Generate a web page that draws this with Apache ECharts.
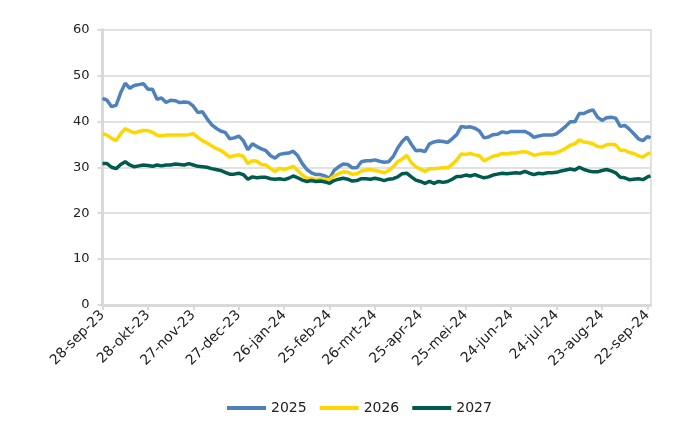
<!DOCTYPE html>
<html>
<head>
<meta charset="utf-8">
<script src="https://cdn.jsdelivr.net/npm/echarts@6/dist/echarts.min.js"></script>
<style>
html,body{margin:0;padding:0;background:#fff;}
#chart{width:700px;height:430px;}
</style>
</head>
<body>
<div id="chart"></div>
<script>
// Days since 28-sep-2023
const days = [0,3,6,9,12,15,18,21,24,27,
30,33,36,39,42,45,48,51,54,57,
60,63,66,69,72,75,78,81,84,87,
90,93,96,99,102,105,108,111,114,117,
120,123,126,129,132,135,138,141,144,147,
150,153,156,159,162,165,168,171,174,177,
180,183,186,189,192,195,198,201,204,207,
210,213,216,219,222,225,228,231,234,237,
240,243,246,249,252,255,258,261,264,267,
270,273,276,279,282,285,288,291,294,297,
300,303,306,309,312,315,318,321,324,327,
330,333,336,339,342,345,348,351,354,357,
360,362];

const series2025 = [45.0,44.6,43.2,43.5,46.2,48.3,47.2,47.8,48.0,48.2,
47.0,47.0,44.8,45.1,44.1,44.6,44.5,44.1,44.2,44.1,
43.3,41.9,42.1,40.6,39.3,38.5,37.9,37.6,36.2,36.4,
36.8,35.8,33.8,35.1,34.5,34.0,33.6,32.5,32.0,32.8,
33.0,33.1,33.5,32.5,30.8,29.5,28.8,28.4,28.4,28.1,
27.6,29.3,30.1,30.7,30.6,29.9,29.9,31.2,31.4,31.4,
31.6,31.3,31.1,31.2,32.3,34.2,35.6,36.6,35.0,33.6,
33.7,33.4,35.1,35.5,35.7,35.6,35.4,36.2,37.1,38.9,
38.7,38.8,38.5,37.9,36.4,36.6,37.1,37.2,37.7,37.5,
37.8,37.8,37.8,37.8,37.3,36.5,36.8,37.0,37.0,37.0,
37.3,38.1,38.9,39.9,39.9,41.7,41.7,42.2,42.5,40.9,
40.2,40.8,40.9,40.7,38.9,39.1,38.3,37.3,36.2,35.8,
36.7,36.4];

const series2026 = [37.3,37.0,36.3,35.8,37.3,38.4,37.9,37.5,37.8,38.0,
38.0,37.6,37.0,36.8,37.0,37.0,37.0,37.0,37.0,37.1,
37.3,36.5,35.8,35.3,34.7,34.1,33.7,33.0,32.2,32.5,
32.7,32.4,30.8,31.4,31.3,30.6,30.5,29.7,29.1,29.8,
29.5,29.8,30.2,29.3,28.3,27.6,27.6,27.3,27.5,27.4,
27.3,28.1,28.6,29.0,28.9,28.5,28.6,29.2,29.4,29.5,
29.3,29.1,28.8,29.3,30.1,31.2,31.8,32.6,31.0,30.1,
29.6,29.1,29.7,29.7,29.8,29.9,29.9,30.6,31.6,32.9,
32.8,33.0,32.7,32.5,31.4,31.9,32.4,32.6,33.0,32.9,
33.1,33.1,33.3,33.4,33.1,32.6,32.8,33.0,33.1,33.0,
33.2,33.6,34.1,34.8,35.1,36.0,35.5,35.4,35.1,34.5,
34.4,34.9,35.0,34.9,33.7,33.7,33.2,33.0,32.5,32.2,
32.9,33.1];

const series2027 = [30.8,30.8,30.0,29.7,30.6,31.2,30.5,30.1,30.3,30.5,
30.4,30.2,30.5,30.3,30.5,30.5,30.7,30.6,30.5,30.8,
30.5,30.2,30.1,30.0,29.7,29.5,29.3,28.9,28.5,28.5,
28.7,28.4,27.4,27.9,27.7,27.8,27.8,27.5,27.4,27.5,
27.3,27.6,28.1,27.7,27.2,26.9,27.1,26.9,27.0,26.8,
26.5,27.1,27.4,27.6,27.4,27.0,27.1,27.5,27.5,27.4,
27.6,27.4,27.1,27.4,27.5,27.9,28.6,28.7,27.9,27.2,
26.9,26.5,26.9,26.5,26.9,26.7,26.9,27.4,28.0,28.0,
28.3,28.1,28.4,28.0,27.7,27.9,28.3,28.5,28.7,28.6,
28.7,28.8,28.7,29.1,28.7,28.4,28.7,28.6,28.8,28.8,
28.9,29.2,29.4,29.6,29.4,30.0,29.5,29.2,29.0,29.0,
29.3,29.5,29.2,28.8,27.8,27.7,27.3,27.4,27.5,27.3,
27.9,28.1];

const seriesNames = ['2025','2026','2027'];
const tickDays = [0,30,60,90,120,150,180,210,240,270,300,330,360];
const monthNames = ['jan','feb','mrt','apr','mei','jun','jul','aug','sep','okt','nov','dec'];
const startDate = Date.UTC(2023, 8, 28);

function fmtDay(d) {
  const dt = new Date(startDate + Math.round(d) * 86400000);
  return dt.getUTCDate() + '-' + monthNames[dt.getUTCMonth()] + '-' + String(dt.getUTCFullYear()).slice(2);
}

const colors = ['#4F81BD', '#FFD700', '#005A4E'];
const values = [series2025, series2026, series2027];
const FONT = 'DejaVu Sans, Verdana, sans-serif';

const chart = echarts.init(document.getElementById('chart'), null, {renderer: 'canvas'});
chart.setOption({
  animation: false,
  backgroundColor: '#ffffff',
  color: colors,
  textStyle: {fontFamily: FONT},
  grid: {left: 102.5, right: 49.5, top: 29.5, bottom: 125, containLabel: false},
  legend: {
    data: seriesNames,
    top: 396,
    left: 222,
    icon: 'rect',
    itemWidth: 39,
    itemHeight: 4,
    itemGap: 13,
    textStyle: {fontSize: 14, color: '#222', fontFamily: FONT}
  },
  xAxis: {
    type: 'value',
    min: 0,
    max: 362,
    interval: 30,
    axisLine: {show: true, lineStyle: {color: '#D9D9D9', width: 3}},
    axisTick: {show: true, length: 5, lineStyle: {color: '#D9D9D9', width: 2}, customValues: tickDays},
    axisLabel: {
      rotate: 45,
      fontSize: 14,
      color: '#222',
      margin: 8,
      fontFamily: FONT,
      customValues: tickDays,
      formatter: fmtDay
    },
    splitLine: {show: false}
  },
  yAxis: [{
    type: 'value',
    min: 0,
    max: 60,
    interval: 10,
    axisLine: {show: true, lineStyle: {color: '#D9D9D9', width: 3}},
    axisTick: {show: true, length: 5, lineStyle: {color: '#D9D9D9', width: 2}},
    axisLabel: {fontSize: 13, color: '#222', margin: 13, fontFamily: FONT},
    splitLine: {show: true, lineStyle: {color: '#D9D9D9', width: 1.5}}
  }, {
    type: 'value',
    position: 'right',
    min: 0,
    max: 60,
    interval: 10,
    axisLine: {show: true, lineStyle: {color: '#D9D9D9', width: 1.5}},
    axisTick: {show: false},
    axisLabel: {show: false},
    splitLine: {show: false}
  }],
  series: seriesNames.map((name, k) => ({
    name: name,
    type: 'line',
    yAxisIndex: 0,
    showSymbol: false,
    symbol: 'none',
    lineStyle: {width: 3.5, color: colors[k]},
    itemStyle: {color: colors[k]},
    data: days.map((d, i) => [d, values[k][i]])
  }))
});
</script>
</body>
</html>
